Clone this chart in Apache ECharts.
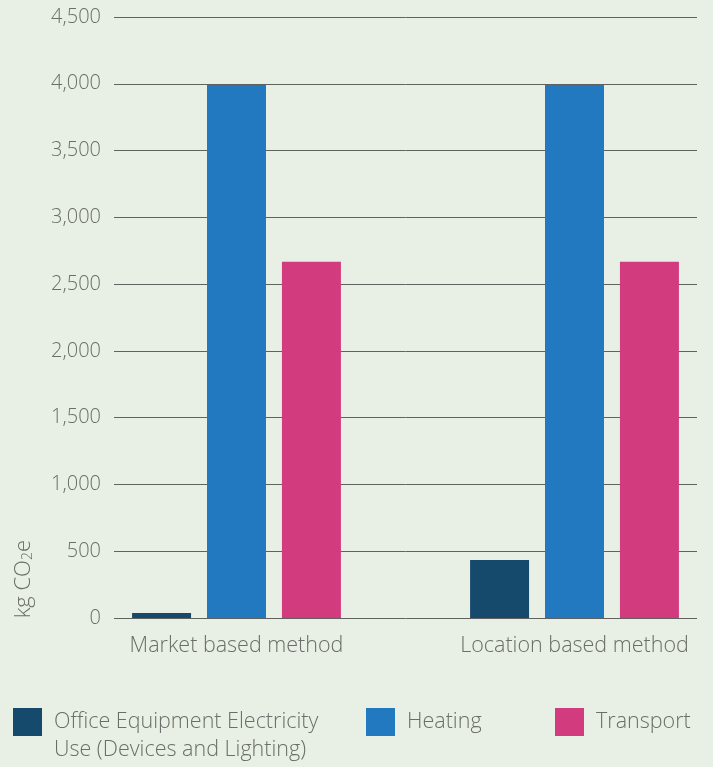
<!DOCTYPE html>
<html>
<head>
<meta charset="utf-8">
<script src="https://cdn.jsdelivr.net/npm/echarts@6/dist/echarts.min.js"></script>
<style>
  html, body { margin: 0; padding: 0; background: #e8efe4; }
  #chart { width: 713px; height: 767px; }
</style>
</head>
<body>
<div id="chart"></div>
<script>
// Emissions by source, per reporting method (kg CO2e)
const methods = ['Market based method', 'Location based method'];
const officeElectricity = [37, 434];
const heating = [3990, 3990];
const transport = [2667, 2667];
const yMax = 4500;
const yStep = 500;

const seriesNames = ['Office Equipment Electricity Use (Devices and Lighting)', 'Heating', 'Transport'];
const colors = ['#164a6c', '#2379c0', '#d23c7e'];

const FONT = '"Open Sans", sans-serif';
const TEXT = '#6a6d69';

// The two method groups sit in the outer slots of a three-slot band axis,
// leaving an empty slot between them.
const slots = [methods[0], '', methods[1]];
const toSlots = arr => [arr[0], null, arr[1]];

const chart = echarts.init(document.getElementById('chart'), null, { renderer: 'canvas' });

const legendBase = {
  orient: 'horizontal',
  padding: 0,
  itemWidth: 29,
  itemHeight: 28,
  icon: 'rect',
  selectedMode: false,
  textStyle: { fontFamily: FONT, fontWeight: 300, fontSize: 21.5, color: TEXT, lineHeight: 28, padding: [0, 0, 0, 7] }
};

const barBase = { type: 'bar', xAxisIndex: 1, yAxisIndex: 1, barWidth: 59, barGap: '27%', clip: false };

chart.setOption({
  backgroundColor: '#e8efe4',
  animation: false,
  color: colors,
  grid: [
    // grid holding the value axis and gridlines
    { left: 114, right: 16, top: 17, height: 601 },
    // grid holding the bars and category labels
    { left: 152, width: 507, top: 17, height: 601 }
  ],
  xAxis: [
    { type: 'category', gridIndex: 0, data: methods, show: false },
    {
      type: 'category', gridIndex: 1, data: slots,
      axisLine: { show: false }, axisTick: { show: false },
      axisLabel: { fontFamily: FONT, fontWeight: 300, fontSize: 21.5, color: TEXT, margin: 17, interval: 0 }
    }
  ],
  yAxis: [
    {
      type: 'value', gridIndex: 0, min: 0, max: yMax, interval: yStep,
      axisLine: { show: false }, axisTick: { show: false },
      splitLine: { lineStyle: { color: '#5f625e', width: 1 } },
      axisLabel: {
        fontFamily: FONT, fontWeight: 300, fontSize: 20, color: TEXT, margin: 13,
        formatter: v => v.toLocaleString('en-US')
      }
    },
    { type: 'value', gridIndex: 1, min: 0, max: yMax, interval: yStep, show: false }
  ],
  legend: [
    Object.assign({}, legendBase, {
      left: 13, top: 680, data: [seriesNames[0]],
      formatter: () => '\nOffice Equipment Electricity\nUse (Devices and Lighting)'
    }),
    Object.assign({}, legendBase, { left: 366, top: 708, data: [seriesNames[1]] }),
    Object.assign({}, legendBase, { left: 555, top: 708, data: [seriesNames[2]] })
  ],
  graphic: [{
    type: 'text',
    left: 13,
    top: 540,
    rotation: Math.PI / 2,
    style: {
      text: '{a|kg CO}{s|2}{a|e}',
      fill: TEXT,
      rich: {
        a: { fontFamily: FONT, fontWeight: 300, fontSize: 22, fill: TEXT },
        s: { fontFamily: FONT, fontWeight: 300, fontSize: 14, fill: TEXT, padding: [8, 0, 0, 0] }
      }
    }
  }],
  series: [
    Object.assign({ name: seriesNames[0], data: toSlots(officeElectricity) }, barBase),
    Object.assign({ name: seriesNames[1], data: toSlots(heating) }, barBase),
    Object.assign({ name: seriesNames[2], data: toSlots(transport) }, barBase)
  ]
});
</script>
</body>
</html>
